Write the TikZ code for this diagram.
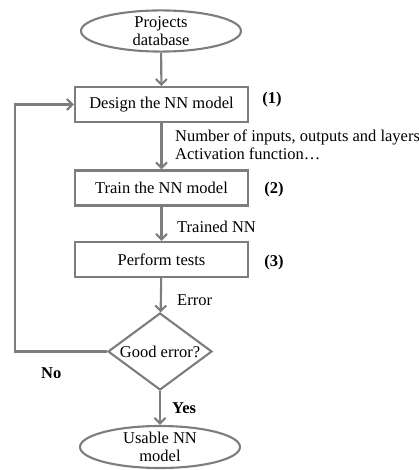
\documentclass[tikz,border=0pt]{standalone}
\usepackage{fontspec}
\setmainfont{Liberation Serif}
\usetikzlibrary{shapes,arrows.meta,positioning,calc}
\definecolor{linegray}{RGB}{125,125,125}

\begin{document}
\begin{tikzpicture}[x=1pt, y=-1pt,
    every node/.style={font=\fontsize{16.5}{18}\selectfont, text=black},
    flowbox/.style={draw=linegray, line width=2.1pt, minimum width=173pt, minimum height=35pt, inner sep=0pt},
    termnode/.style={ellipse, draw=linegray, line width=2.1pt, minimum width=160pt, minimum height=38pt, inner sep=0pt, align=center},
    decision/.style={diamond, draw=linegray, line width=2.1pt, aspect=1.35, minimum width=104pt, minimum height=77pt, inner sep=0pt},
    flowarrow/.style={draw=linegray, line width=2.1pt, -{Straight Barb[length=5.5pt,width=11pt]}},
    steplabel/.style={font=\fontsize{16.5}{18}\selectfont\bfseries}]
  \useasboundingbox (0,0) rectangle (419,470);
  \node[termnode] (projects) at (161,31) {Projects\\database};
  \node[flowbox] (design) at (161.5,104.5) {Design the NN model};
  \node[flowbox] (train) at (161.5,188) {Train the NN model};
  \node[flowbox] (tests) at (161.5,259.5) {Perform tests};
  \node[decision] (check) at (160,351.5) {Good error?};
  \node[termnode, minimum height=42pt] (usable) at (160,447) {Usable NN\\model};
  \draw[flowarrow] (projects) -- (design);
  \draw[flowarrow] (design) -- (train);
  \draw[flowarrow] (train) -- (tests);
  \draw[flowarrow] (tests) -- (check);
  \draw[flowarrow] (check) -- (usable);
  \coordinate (loopcorner) at (15,351.5);
  \draw[flowarrow] (check.west) -- (loopcorner) |- (design.west);
  \node[steplabel] (lab1) at (272,100) {(1)};
  \node[steplabel] (lab2) at (274,190) {(2)};
  \node[steplabel] (lab3) at (274,263) {(3)};
  \node[anchor=west, align=left, inner sep=0pt] (archtext) at (175,145) {Number of inputs, outputs and layers\\Activation function\dots};
  \node[anchor=west, inner sep=0pt] (trainedtext) at (177,227) {Trained NN};
  \node[anchor=west, inner sep=0pt] (errortext) at (177,300) {Error};
  \node[steplabel, anchor=west, inner sep=0pt] (yestext) at (172,408) {Yes};
  \node[steplabel, anchor=west, inner sep=0pt] (notext) at (41,373) {No};
\end{tikzpicture}
\end{document}
